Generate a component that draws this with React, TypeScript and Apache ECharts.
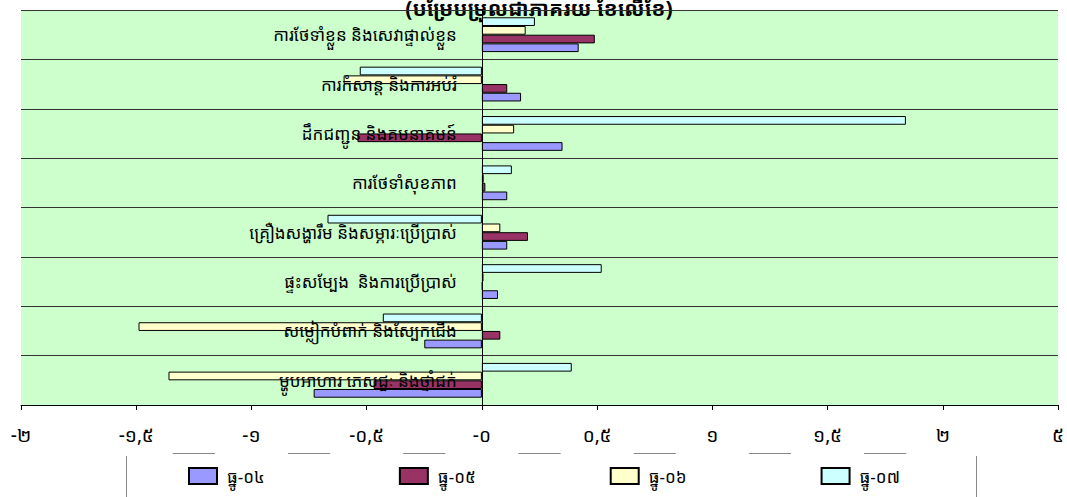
import React, { useEffect, useRef } from "react";
import * as echarts from "echarts";

const categories = [
  "ការថែទាំខ្លួន និងសេវាផ្ទាល់ខ្លួន",
  "ការកំសាន្ត និងការអប់រំ",
  "ដឹកជញ្ជូន និងគមនាគមន៍",
  "ការថែទាំសុខភាព",
  "គ្រឿងសង្ហារឹម និងសម្ភារៈប្រើប្រាស់",
  "ផ្ទះសម្បែង  និងការប្រើប្រាស់",
  "សម្លៀកបំពាក់ និងស្បែកជើង",
  "ម្ហូបអាហារ ភេសជ្ជៈ និងថ្នាំជក់",
];

const seriesNames = ["ធ្នូ-០៤", "ធ្នូ-០៥", "ធ្នូ-០៦", "ធ្នូ-០៧"];

const dec04 = [0.42, 0.17, 0.35, 0.11, 0.11, 0.07, -0.25, -0.73];
const dec05 = [0.49, 0.11, -0.54, 0.015, 0.2, 0.003, 0.08, -0.47];
const dec06 = [0.19, -0.6, 0.14, 0.008, 0.08, 0.007, -1.49, -1.36];
const dec07 = [0.23, -0.53, 1.84, 0.13, -0.67, 0.52, -0.43, 0.39];

const tickValues = [-2, -1.5, -1, -0.5, 0, 0.5, 1, 1.5, 2, 2.5];
const tickLabels = ["-២", "-១,៥", "-១", "-០,៥", "-០", "០,៥", "១", "១,៥", "២", "៥"];

const titleText = "(បម្រែបម្រួលជាភាគរយ ខែលើខែ)";

const colors = ["#9999FF", "#993366", "#FFFFCC", "#CCFFFF"];

const FONT = "'Khmer OS', 'Khmer OS System', 'Noto Sans Khmer', 'Noto Serif Khmer', 'Noto Sans', sans-serif";

const X_MIN = -2;
const X_MAX = 2.5;
const GRID_LEFT = 21;
const GRID_RIGHT = 9;

export default function App() {
  const ref = useRef<HTMLDivElement>(null);
  useEffect(() => {
    document.body.style.margin = "0";
    if (!ref.current) return;
    const chart = echarts.init(ref.current, null, { renderer: "svg" });
    const data = [dec04, dec05, dec06, dec07];
    const plotW = 1067 - GRID_LEFT - GRID_RIGHT;
    const zeroOffset = ((0 - X_MIN) / (X_MAX - X_MIN)) * plotW;
    const seriesList = seriesNames
      .map((n, i) => ({
        name: n,
        type: "bar",
        data: data[i],
        barWidth: 8.7,
        barGap: "0%",
        itemStyle: { color: colors[i], borderColor: "#000", borderWidth: 1 },
      }))
      .reverse();
    chart.setOption({
      animation: false,
      backgroundColor: "#ffffff",
      grid: {
        left: GRID_LEFT,
        right: GRID_RIGHT,
        top: 10,
        bottom: 92,
        containLabel: false,
        outerBoundsMode: "none",
        show: true,
        backgroundColor: "#CCFFCC",
        borderWidth: 0,
      },
      xAxis: {
        type: "value",
        min: X_MIN,
        max: X_MAX,
        interval: 0.5,
        z: 10,
        axisLine: { show: true, onZero: false, lineStyle: { color: "#000", width: 1 } },
        axisTick: { show: true, length: 5, lineStyle: { color: "#000" } },
        splitLine: { show: false },
        axisLabel: {
          margin: 18,
          fontSize: 19,
          fontFamily: FONT,
          color: "#000",
          showMaxLabel: true,
          showMinLabel: true,
          hideOverlap: false,
          width: 73,
          align: "center",
          backgroundColor: "#ffffff",
          padding: [2, 0, 12, 0],
          formatter: (v: number) => {
            const i = tickValues.findIndex((t) => Math.abs(t - v) < 1e-6);
            return i >= 0 ? tickLabels[i] : "";
          },
        },
      },
      yAxis: {
        type: "category",
        data: categories,
        inverse: true,
        z: 5,
        position: "left",
        offset: -zeroOffset,
        axisLine: { show: true, onZero: false, lineStyle: { color: "#000", width: 1 } },
        axisTick: { show: true, length: 10, lineStyle: { color: "#333" } },
        splitLine: { show: true, lineStyle: { color: "#333", width: 1 } },
        axisLabel: {
          margin: 25,
          fontSize: 17,
          fontFamily: FONT,
          color: "#000",
          interval: 0,
          padding: [6, 0, 0, 0],
        },
      },
      legend: {
        data: seriesNames.map((n) => ({ name: n, icon: "rect" })),
        left: 188,
        top: 467,
        padding: 0,
        itemWidth: 28,
        itemHeight: 16,
        itemGap: 134,
        textStyle: { fontSize: 17, fontFamily: FONT, color: "#000", padding: [14, 0, 0, 5] },
      },
      graphic: [
        {
          type: "rect",
          z: -10,
          shape: { x: 126.5, y: 453.5, width: 850, height: 60 },
          style: { fill: "#fff", stroke: "#888", lineWidth: 1 },
        },
        {
          type: "text",
          x: 539,
          y: 8,
          style: {
            text: titleText,
            fontSize: 21,
            fontWeight: "bold",
            fontFamily: FONT,
            fill: "#000",
            textAlign: "center",
            textVerticalAlign: "middle",
          },
        },
      ],
      series: seriesList,
    });
    return () => chart.dispose();
  }, []);
  return <div ref={ref} style={{ width: 1067, height: 497 }} />;
}
